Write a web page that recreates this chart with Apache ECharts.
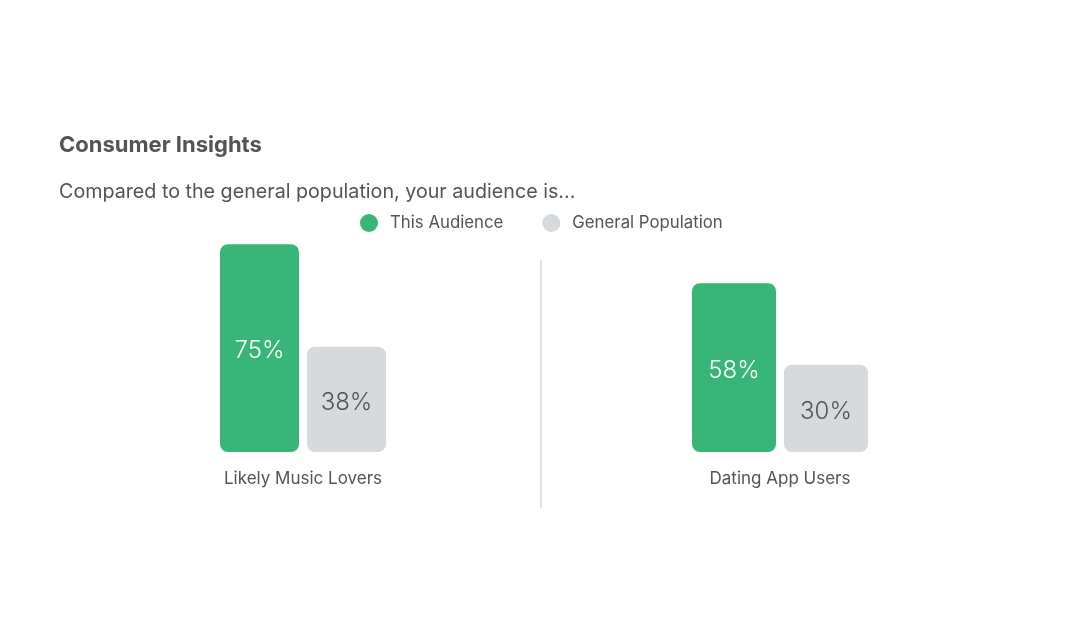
<!DOCTYPE html>
<html>
<head>
<meta charset="utf-8">
<script src="https://cdn.jsdelivr.net/npm/echarts@6/dist/echarts.min.js"></script>
<style>
  html, body { margin: 0; padding: 0; background: #fff; }
  #chart { width: 1083px; height: 617px; }
</style>
</head>
<body>
<div id="chart"></div>
<script>
// data
var categories = ['Likely Music Lovers', 'Dating App Users'];
var audience = [75, 58];
var general = [38, 30];
var seriesNames = ['This Audience', 'General Population'];

var green = '#38b677';
var grey = '#d6dadd';
var textColor = '#525456';
var font = 'Inter';

var myChart = echarts.init(document.getElementById('chart'));

// one grid per category so each group can keep its own scale / bar width
var grids = [
    { left: 203, width: 200, top: 175, bottom: 617 - 452 },
    { left: 680, width: 200, top: 161, bottom: 617 - 452 }
];
var barWidths = [79, 84];

var xAxes = [], yAxes = [], series = [];
categories.forEach(function (cat, i) {
    xAxes.push({
        type: 'category',
        gridIndex: i,
        data: [cat],
        axisLine: { show: false },
        axisTick: { show: false },
        axisLabel: { margin: 18, fontSize: 17, color: textColor, fontFamily: font }
    });
    yAxes.push({
        type: 'value',
        gridIndex: i,
        min: 0,
        max: 100,
        show: false
    });
    var gap = (8 / barWidths[i] * 100).toFixed(1) + '%';
    series.push({
        name: seriesNames[0],
        type: 'bar',
        xAxisIndex: i,
        yAxisIndex: i,
        barWidth: barWidths[i],
        barGap: gap,
        data: [audience[i]],
        itemStyle: { color: green, borderRadius: 8 },
        label: {
            show: true, position: 'inside', formatter: '{c}%', offset: [0, 3],
            fontSize: 24, fontFamily: font, fontWeight: 300, color: '#fff'
        }
    });
    series.push({
        name: seriesNames[1],
        type: 'bar',
        xAxisIndex: i,
        yAxisIndex: i,
        barWidth: barWidths[i],
        barGap: gap,
        data: [general[i]],
        itemStyle: { color: grey, borderRadius: 8 },
        label: {
            show: true, position: 'inside', formatter: '{c}%', offset: [0, 3],
            fontSize: 24, fontFamily: font, fontWeight: 300, color: textColor
        }
    });
});

var option = {
    animation: false,
    title: [
        {
            text: 'Consumer Insights',
            left: 54, top: 129,
            textStyle: { fontSize: 22, fontWeight: 'bold', color: textColor, fontFamily: font }
        },
        {
            text: 'Compared to the general population, your audience is...',
            left: 54, top: 177,
            textStyle: { fontSize: 19.7, fontWeight: 'normal', color: textColor, fontFamily: font }
        }
    ],
    legend: {
        data: seriesNames,
        left: 355, top: 209,
        icon: 'circle',
        itemWidth: 18, itemHeight: 18,
        itemGap: 39,
        textStyle: { fontSize: 16.8, color: textColor, fontFamily: font, padding: [0, 0, 0, 7] }
    },
    grid: grids,
    xAxis: xAxes,
    yAxis: yAxes,
    series: series,
    graphic: [{
        type: 'line',
        shape: { x1: 541, y1: 260, x2: 541, y2: 508 },
        style: { stroke: '#dfe2e4', lineWidth: 2 }
    }]
};

myChart.setOption(option);
</script>
</body>
</html>
